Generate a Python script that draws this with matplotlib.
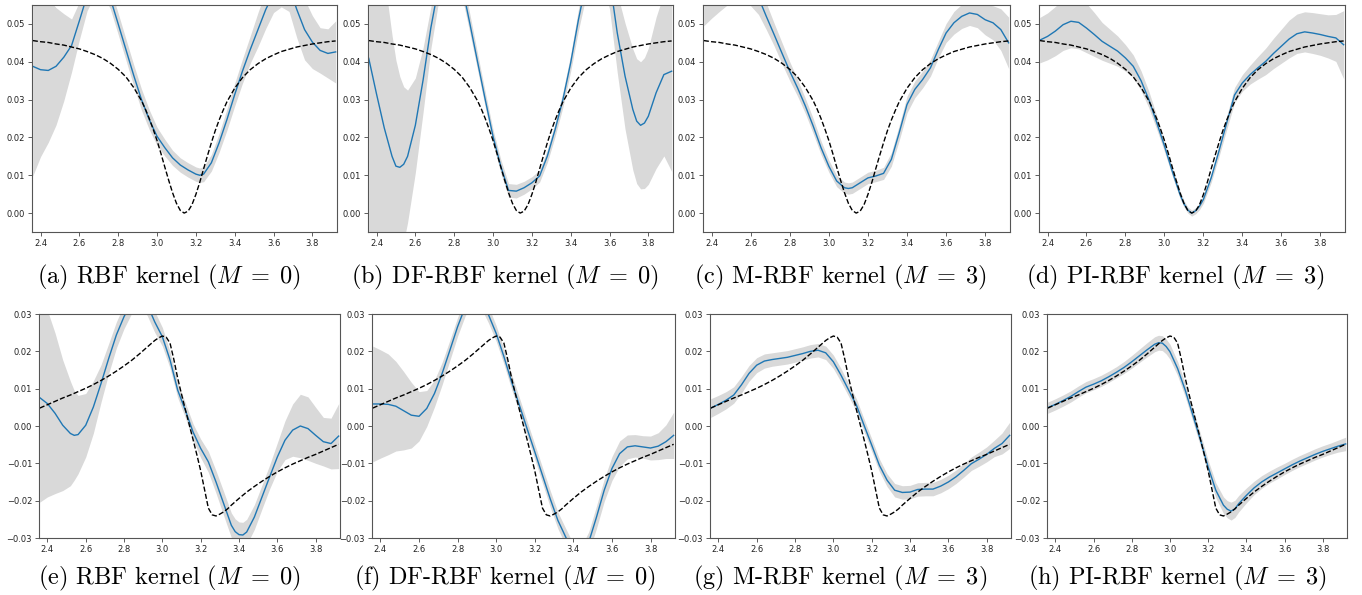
import numpy as np
import matplotlib
matplotlib.use("Agg")
import matplotlib.pyplot as plt

plt.rcParams['mathtext.fontset'] = 'cm'

# sample points on [3pi/4, 5pi/4]
x = np.round(np.arange(2.36, 3.921, 0.04), 2)

# the dashed reference functions are sampled finer around pi
x_truth = [2.36, 2.40, 2.44, 2.48, 2.52, 2.56, 2.60, 2.64, 2.68, 2.72, 2.76, 2.80, 2.84, 2.88, 2.92,
           2.94, 2.96, 2.98, 3.00, 3.02, 3.04, 3.06, 3.08, 3.10, 3.12, 3.14, 3.16, 3.18, 3.20, 3.22,
           3.24, 3.26, 3.28, 3.30, 3.32, 3.34,
           3.36, 3.40, 3.44, 3.48, 3.52, 3.56, 3.60, 3.64, 3.68, 3.72, 3.76, 3.80, 3.84, 3.88, 3.92]
truth_top = [0.0456, 0.0453, 0.0451, 0.0447, 0.0444, 0.0439, 0.0434, 0.0427, 0.0419, 0.0409,
             0.0396, 0.0380, 0.0360, 0.0332, 0.0297,
             0.0275, 0.0250, 0.0222, 0.0192, 0.0158, 0.0122, 0.0087, 0.0054, 0.0026, 0.0007,
             0.0000, 0.0005, 0.0022, 0.0049, 0.0081, 0.0117, 0.0152, 0.0186, 0.0218, 0.0246, 0.0271,
             0.0294, 0.0330, 0.0358, 0.0379, 0.0395, 0.0408, 0.0418, 0.0427, 0.0433, 0.0439,
             0.0443, 0.0447, 0.0450, 0.0453, 0.0455]
truth_bot = [0.0048, 0.0057, 0.0066, 0.0075, 0.0083, 0.0092, 0.0101, 0.0111, 0.0122, 0.0134,
             0.0147, 0.0161, 0.0176, 0.0193, 0.0211,
             0.0220, 0.0229, 0.0236, 0.0241, 0.0238, 0.0222, 0.0178, 0.0128, 0.0085, 0.0044,
             0.0004, -0.0036, -0.0077, -0.0120, -0.0170, -0.0220, -0.0238, -0.0241, -0.0236, -0.0230,
             -0.0222,
             -0.0212, -0.0194, -0.0177, -0.0162, -0.0148, -0.0135, -0.0123, -0.0112, -0.0102, -0.0093,
             -0.0084, -0.0076, -0.0067, -0.0058, -0.0049]

# posterior means on the 0.04 grid
mean_a = [0.0388, 0.0379, 0.0377, 0.0388, 0.0412, 0.0443, 0.0508, 0.0575, 0.0612, 0.0612,
          0.0567, 0.0500, 0.0432, 0.0364, 0.0300, 0.0247, 0.0203, 0.0173, 0.0146, 0.0127,
          0.0114, 0.0103, 0.0103, 0.0133, 0.0186, 0.0247, 0.0313, 0.0375, 0.0432, 0.0485,
          0.0538, 0.0580, 0.0600, 0.0598, 0.0538, 0.0485, 0.0452, 0.0430, 0.0422, 0.0426]
mean_b = [0.0409, 0.0315, 0.0225, 0.0150, 0.0121, 0.0150, 0.0232, 0.0352, 0.0490, 0.0600,
          0.0650, 0.0660, 0.0602, 0.0503, 0.0401, 0.0300, 0.0203, 0.0124, 0.0060, 0.0058,
          0.0067, 0.0080, 0.0098, 0.0151, 0.0221, 0.0300, 0.0397, 0.0511, 0.0610, 0.0660,
          0.0670, 0.0620, 0.0476, 0.0362, 0.0274, 0.0232, 0.0256, 0.0318, 0.0366, 0.0375]
mean_c = [0.0705, 0.0705, 0.0703, 0.0695, 0.0680, 0.0655, 0.0618, 0.0570, 0.0520, 0.0472,
          0.0423, 0.0375, 0.0331, 0.0283, 0.0230, 0.0173, 0.0124, 0.0085, 0.0067, 0.0067,
          0.0080, 0.0093, 0.0098, 0.0105, 0.0142, 0.0212, 0.0287, 0.0327, 0.0353, 0.0384,
          0.0432, 0.0476, 0.0503, 0.0520, 0.0529, 0.0525, 0.0511, 0.0503, 0.0485, 0.0450]
mean_d = [0.0457, 0.0467, 0.0481, 0.0498, 0.0507, 0.0504, 0.0489, 0.0472, 0.0454, 0.0441,
          0.0428, 0.0410, 0.0388, 0.0350, 0.0300, 0.0240, 0.0178, 0.0111, 0.0049, 0.0008,
          0.0006, 0.0036, 0.0093, 0.0164, 0.0239, 0.0312, 0.0344, 0.0366, 0.0384, 0.0401,
          0.0422, 0.0441, 0.0460, 0.0474, 0.0479, 0.0476, 0.0472, 0.0467, 0.0463, 0.0445]
mean_e = [0.0076, 0.0060, 0.0034, 0.0002, -0.0020, -0.0023, 0.0002, 0.0051, 0.0114, 0.0181,
          0.0244, 0.0293, 0.0332, 0.0343, 0.0327, 0.0279, 0.0239, 0.0177, 0.0096, 0.0042,
          -0.0016, -0.0060, -0.0096, -0.0150, -0.0208, -0.0266, -0.0291, -0.0284, -0.0244, -0.0190,
          -0.0136, -0.0083, -0.0038, -0.0011, 0.0000, -0.0007, -0.0025, -0.0042, -0.0047, -0.0027]
mean_f = [0.0059, 0.0059, 0.0058, 0.0053, 0.0041, 0.0029, 0.0026, 0.0047, 0.0087, 0.0141,
          0.0203, 0.0266, 0.0320, 0.0345, 0.0340, 0.0298, 0.0248, 0.0186, 0.0118, 0.0056,
          -0.0007, -0.0069, -0.0132, -0.0195, -0.0253, -0.0297, -0.0340, -0.0350, -0.0311, -0.0244,
          -0.0172, -0.0114, -0.0074, -0.0056, -0.0053, -0.0056, -0.0059, -0.0054, -0.0042, -0.0025]
mean_g = [0.0048, 0.0058, 0.0069, 0.0083, 0.0110, 0.0141, 0.0163, 0.0174, 0.0178, 0.0181,
          0.0184, 0.0189, 0.0194, 0.0200, 0.0203, 0.0196, 0.0172, 0.0136, 0.0096, 0.0056,
          0.0002, -0.0051, -0.0105, -0.0145, -0.0172, -0.0178, -0.0177, -0.0170, -0.0169, -0.0169,
          -0.0161, -0.0150, -0.0136, -0.0119, -0.0101, -0.0089, -0.0076, -0.0060, -0.0047, -0.0025]
mean_h = [0.0049, 0.0058, 0.0068, 0.0079, 0.0092, 0.0104, 0.0112, 0.0121, 0.0132, 0.0144,
          0.0157, 0.0172, 0.0188, 0.0204, 0.0219, 0.0222, 0.0199, 0.0154, 0.0096, 0.0029,
          -0.0038, -0.0110, -0.0172, -0.0212, -0.0228, -0.0208, -0.0186, -0.0166, -0.0150, -0.0137,
          -0.0126, -0.0115, -0.0104, -0.0094, -0.0085, -0.0076, -0.0068, -0.0061, -0.0054, -0.0048]

# half width of the shaded band (2 std)
band_a = [0.0290, 0.0230, 0.0190, 0.0155, 0.0115, 0.0070, 0.0050, 0.0040, 0.0035, 0.0030,
          0.0028, 0.0028, 0.0028, 0.0028, 0.0028, 0.0026, 0.0024, 0.0022, 0.0020, 0.0019,
          0.0019, 0.0019, 0.0020, 0.0022, 0.0025, 0.0028, 0.0030, 0.0032, 0.0036, 0.0045,
          0.0050, 0.0050, 0.0055, 0.0065, 0.0075, 0.0080, 0.0070, 0.0060, 0.0065, 0.0082]
band_b = [0.0500, 0.0460, 0.0400, 0.0320, 0.0240, 0.0175, 0.0125, 0.0085, 0.0055, 0.0040,
          0.0035, 0.0030, 0.0028, 0.0025, 0.0022, 0.0020, 0.0018, 0.0018, 0.0018, 0.0018,
          0.0017, 0.0016, 0.0016, 0.0017, 0.0018, 0.0020, 0.0022, 0.0028, 0.0035, 0.0045,
          0.0060, 0.0080, 0.0105, 0.0140, 0.0160, 0.0168, 0.0180, 0.0200, 0.0215, 0.0265]
band_c = [0.0210, 0.0190, 0.0170, 0.0145, 0.0120, 0.0095, 0.0070, 0.0045, 0.0035, 0.0030,
          0.0028, 0.0025, 0.0022, 0.0020, 0.0020, 0.0018, 0.0016, 0.0015, 0.0015, 0.0015,
          0.0015, 0.0015, 0.0015, 0.0016, 0.0018, 0.0020, 0.0022, 0.0022, 0.0022, 0.0022,
          0.0022, 0.0025, 0.0030, 0.0032, 0.0033, 0.0035, 0.0040, 0.0045, 0.0055, 0.0068]
band_d = [0.0060, 0.0062, 0.0065, 0.0068, 0.0070, 0.0070, 0.0065, 0.0058, 0.0050, 0.0045,
          0.0040, 0.0035, 0.0030, 0.0026, 0.0022, 0.0018, 0.0015, 0.0012, 0.0010, 0.0008,
          0.0008, 0.0010, 0.0012, 0.0015, 0.0018, 0.0020, 0.0022, 0.0025, 0.0030, 0.0035,
          0.0040, 0.0045, 0.0050, 0.0052, 0.0053, 0.0054, 0.0055, 0.0057, 0.0062, 0.0090]
band_e = [0.0280, 0.0250, 0.0215, 0.0175, 0.0140, 0.0105, 0.0085, 0.0070, 0.0050, 0.0040,
          0.0035, 0.0032, 0.0030, 0.0030, 0.0030, 0.0028, 0.0025, 0.0022, 0.0020, 0.0020,
          0.0022, 0.0025, 0.0028, 0.0030, 0.0032, 0.0033, 0.0034, 0.0034, 0.0033, 0.0032,
          0.0032, 0.0038, 0.0052, 0.0070, 0.0085, 0.0085, 0.0075, 0.0065, 0.0068, 0.0087]
band_f = [0.0155, 0.0145, 0.0135, 0.0120, 0.0105, 0.0088, 0.0066, 0.0048, 0.0036, 0.0030,
          0.0027, 0.0025, 0.0024, 0.0023, 0.0022, 0.0022, 0.0021, 0.0020, 0.0020, 0.0020,
          0.0020, 0.0020, 0.0021, 0.0022, 0.0022, 0.0023, 0.0024, 0.0025, 0.0028, 0.0030,
          0.0030, 0.0032, 0.0034, 0.0032, 0.0030, 0.0030, 0.0032, 0.0036, 0.0045, 0.0062]
band_g = [0.0025, 0.0024, 0.0023, 0.0022, 0.0022, 0.0021, 0.0020, 0.0019, 0.0018, 0.0018,
          0.0018, 0.0018, 0.0018, 0.0018, 0.0018, 0.0018, 0.0018, 0.0018, 0.0017, 0.0017,
          0.0017, 0.0017, 0.0017, 0.0017, 0.0018, 0.0018, 0.0018, 0.0018, 0.0018, 0.0018,
          0.0018, 0.0018, 0.0018, 0.0018, 0.0018, 0.0019, 0.0020, 0.0022, 0.0028, 0.0035]
band_h = [0.0015, 0.0015, 0.0015, 0.0015, 0.0015, 0.0015, 0.0015, 0.0015, 0.0015, 0.0015,
          0.0016, 0.0017, 0.0018, 0.0019, 0.0020, 0.0020, 0.0020, 0.0019, 0.0018, 0.0017,
          0.0017, 0.0018, 0.0020, 0.0022, 0.0024, 0.0022, 0.0020, 0.0018, 0.0017, 0.0016,
          0.0016, 0.0015, 0.0015, 0.0015, 0.0015, 0.0015, 0.0015, 0.0015, 0.0016, 0.0018]

# extra samples at sharp turns: (x, mean, half width)
extra_a = [(3.22, 0.0100, 0.0019)]
extra_b = [(2.50, 0.0124, 0.0280), (2.54, 0.0129, 0.0205),
           (3.74, 0.0243, 0.0165), (3.78, 0.0238, 0.0173)]
extra_c = [(3.10, 0.0065, 0.0015)]
extra_d = [(3.10, 0.0025, 0.0009), (3.14, 0.0000, 0.0008), (3.18, 0.0018, 0.0009)]
extra_e = [(2.54, -0.0025, 0.0120), (3.38, -0.0283, 0.0034), (3.42, -0.0292, 0.0034)]
extra_f = []
extra_g = []
extra_h = [(2.94, 0.0223, 0.0020), (2.98, 0.0213, 0.0020),
           (3.30, -0.0223, 0.0023), (3.34, -0.0222, 0.0023)]

captions = [r"(a) RBF kernel ($M\;=\;0$)", r"(b) DF-RBF kernel ($M\;=\;0$)",
            r"(c) M-RBF kernel ($M\;=\;3$)", r"(d) PI-RBF kernel ($M\;=\;3$)",
            r"(e) RBF kernel ($M\;=\;0$)", r"(f) DF-RBF kernel ($M\;=\;0$)",
            r"(g) M-RBF kernel ($M\;=\;3$)", r"(h) PI-RBF kernel ($M\;=\;3$)"]

panels = [(truth_top, mean_a, band_a, extra_a), (truth_top, mean_b, band_b, extra_b),
          (truth_top, mean_c, band_c, extra_c), (truth_top, mean_d, band_d, extra_d),
          (truth_bot, mean_e, band_e, extra_e), (truth_bot, mean_f, band_f, extra_f),
          (truth_bot, mean_g, band_g, extra_g), (truth_bot, mean_h, band_h, extra_h)]

W, H = 1362, 595
# axes boxes in pixels: left, top, right, bottom
boxes = [(32, 5, 337, 232), (368, 5, 673, 232), (703, 5, 1010, 232), (1039, 5, 1345, 232),
         (39, 314, 340, 538), (372, 314, 675, 538), (710, 314, 1011, 538), (1047, 314, 1347, 538)]
cap_pos = [(169, 277), (505, 277), (840, 277), (1175, 277),
           (169, 578), (505, 578), (840, 578), (1177, 578)]

fig = plt.figure(figsize=(W / 100, H / 100), dpi=100)

for i, ((truth, mean, band, extra), box) in enumerate(zip(panels, boxes)):
    l, t, r, b = box
    ax = fig.add_axes([l / W, 1 - b / H, (r - l) / W, (b - t) / H])
    xs = np.concatenate([x, [e[0] for e in extra]])
    mu = np.concatenate([mean, [e[1] for e in extra]])
    hw = np.concatenate([band, [e[2] for e in extra]])
    order = np.argsort(xs)
    xs, mu, hw = xs[order], mu[order], hw[order]
    ax.fill_between(xs, mu - hw, mu + hw, color='#d9d9d9', linewidth=0)
    ax.plot(xs, mu, color='#1f77b4', lw=1.0)
    ax.plot(x_truth, truth, 'k--', lw=1.0)
    ax.set_xlim(3 * np.pi / 4, 5 * np.pi / 4)
    if i < 4:
        ax.set_ylim(-0.005, 0.055)
    else:
        ax.set_ylim(-0.03, 0.03)
    ax.tick_params(labelsize=6, length=3, width=0.6, color='#444444', labelcolor='#222222', pad=2)
    for s in ax.spines.values():
        s.set_color('#555555')
        s.set_linewidth(0.8)
    cx, cy = cap_pos[i]
    fig.text(cx / W, 1 - cy / H, captions[i], ha='center', va='center',
             fontsize=17.5, family='cmr10')

fig.savefig("out.png", dpi=100)
